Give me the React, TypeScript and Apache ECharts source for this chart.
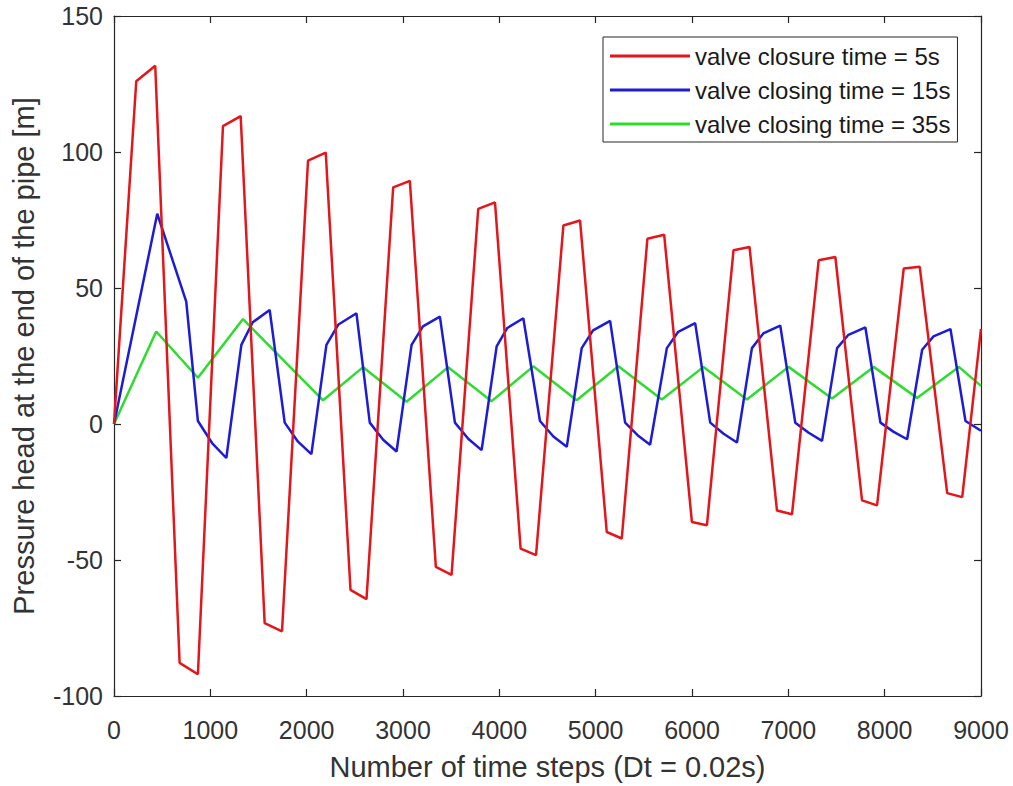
import React, { useEffect, useRef } from "react";
import * as echarts from "echarts";

// Number of time steps vs pressure head [m]
const redPoints: number[][] = [
  [0, 0], [231, 126], [428, 131.7], [681, -87.8], [871, -92],
  [1131, 109.5], [1315, 113.2], [1564, -73.2], [1744, -76.2],
  [2014, 96.8], [2198, 99.8], [2455, -61], [2621, -64.4],
  [2898, 87], [3071, 89.4], [3341, -52.5], [3504, -55.5],
  [3781, 79.1], [3955, 81.5], [4221, -45.8], [4381, -48.2],
  [4665, 73], [4838, 74.8], [5115, -39.7], [5271, -42.1],
  [5537, 68.1], [5711, 69.6], [5999, -36], [6155, -37.2],
  [6431, 63.9], [6597, 65.1], [6882, -31.8], [7038, -33.2],
  [7315, 60.2], [7488, 61.4], [7765, -28.1], [7921, -29.9],
  [8198, 57.2], [8364, 57.8], [8649, -25.4], [8805, -26.9],
  [9000, 35],
];

const bluePoints: number[][] = [
  [0, 0], [449, 77.3], [750, 45], [871, 1.1], [1018, -7], [1166, -12.5],
  [1322, 29.1], [1440, 37.4], [1616, 41.9], [1772, 0.5], [1910, -6.5], [2049, -11.1],
  [2205, 29.1], [2330, 36.6], [2517, 40.7], [2655, 0.5], [2794, -5.8], [2933, -10.1],
  [3089, 29.1], [3207, 35.9], [3383, 39.5], [3539, 0.5], [3677, -5.4], [3816, -9.6],
  [3972, 28.5], [4083, 35.3], [4249, 38.9], [4422, 1.1], [4561, -4.6], [4700, -8.4],
  [4855, 27.9], [4973, 34.4], [5150, 37.9], [5306, 0.5], [5435, -4.1], [5565, -7.6],
  [5739, 27.9], [5857, 33.9], [6033, 37.1], [6189, 0.5], [6328, -3.6], [6467, -6.8],
  [6622, 27.9], [6740, 33.3], [6916, 36.2], [7072, 0.5], [7211, -3.2], [7350, -6.2],
  [7506, 27.9], [7624, 32.8], [7800, 35.5], [7956, 0.5], [8094, -2.9], [8233, -5.6],
  [8389, 27.3], [8507, 32.2], [8683, 34.9], [8839, 1.1], [9000, -2.5],
];

const greenPoints: number[][] = [
  [0, 0], [438, 34], [871, 17], [1339, 38.6], [2170, 8.7], [2586, 20.9],
  [3037, 8.2], [3469, 20.9], [3920, 8.4], [4353, 21.2], [4803, 8.7],
  [5236, 21.2], [5687, 9], [6120, 21], [6570, 9], [7003, 21],
  [7453, 9.4], [7886, 21], [8336, 9.6], [8770, 21], [9000, 14],
];

const seriesNames = [
  "valve closure time = 5s",
  "valve closing time = 15s",
  "valve closing time = 35s",
];
const seriesColors = ["#e3161b", "#1c1cd6", "#2edc2e"];

const xTicks = { min: 0, max: 9000, interval: 1000 };
const yTicks = { min: -100, max: 150, interval: 50 };

const FONT = "'Liberation Sans', Arial, Helvetica, sans-serif";
const AXIS_COLOR = "#262626";
const LABEL_COLOR = "#333333";

export default function App() {
  const ref = useRef<HTMLDivElement>(null);

  useEffect(() => {
    if (!ref.current) return;
    const chart = echarts.init(ref.current, null, { renderer: "svg" });

    const axisLine = { show: true, onZero: false, lineStyle: { color: AXIS_COLOR, width: 1.2 } };
    const axisTick = { show: true, inside: true, length: 7, lineStyle: { color: AXIS_COLOR, width: 1.2 } };
    const plain = (v: number) => String(v);

    const data = [redPoints, bluePoints, greenPoints];

    chart.setOption({
      animation: false,
      backgroundColor: "#ffffff",
      textStyle: { fontFamily: FONT },
      grid: { left: 114, right: 32, top: 16, bottom: 86, containLabel: false },
      legend: {
        data: seriesNames.map((name) => ({ name, icon: "rect" })),
        orient: "vertical",
        left: 603,
        top: 37,
        padding: [7, 7, 6, 7],
        borderColor: AXIS_COLOR,
        borderWidth: 1,
        backgroundColor: "#ffffff",
        itemWidth: 80,
        itemHeight: 3,
        itemGap: 10,
        textStyle: { fontSize: 24, color: "#1a1a1a", fontFamily: FONT },
      },
      xAxis: [
        {
          type: "value",
          position: "bottom",
          ...xTicks,
          axisLine,
          axisTick,
          splitLine: { show: false },
          axisLabel: { fontSize: 25, color: LABEL_COLOR, margin: 21, fontFamily: FONT, formatter: plain },
          name: "Number of time steps (Dt = 0.02s)",
          nameLocation: "middle",
          nameGap: 56,
          nameTextStyle: { fontSize: 29, color: LABEL_COLOR, fontFamily: FONT },
        },
        {
          type: "value",
          position: "top",
          ...xTicks,
          axisLine,
          axisTick,
          splitLine: { show: false },
          axisLabel: { show: false },
        },
      ],
      yAxis: [
        {
          type: "value",
          position: "left",
          ...yTicks,
          axisLine,
          axisTick,
          splitLine: { show: false },
          axisLabel: { fontSize: 25, color: LABEL_COLOR, margin: 11, fontFamily: FONT, formatter: plain },
          name: "Pressure head at the end of the pipe [m]",
          nameLocation: "middle",
          nameGap: 76,
          nameTextStyle: { fontSize: 29, color: LABEL_COLOR, fontFamily: FONT },
        },
        {
          type: "value",
          position: "right",
          ...yTicks,
          axisLine,
          axisTick,
          splitLine: { show: false },
          axisLabel: { show: false },
        },
      ],
      series: seriesNames.map((name, i) => ({
        name,
        type: "line",
        xAxisIndex: 0,
        yAxisIndex: 0,
        data: data[i],
        symbol: "none",
        showSymbol: false,
        lineStyle: { color: seriesColors[i], width: 2.5 },
        itemStyle: { color: seriesColors[i] },
        z: 3 - i,
      })),
    });

    return () => chart.dispose();
  }, []);

  return (
    <div
      ref={ref}
      style={{ position: "absolute", left: 0, top: 0, width: 1013, height: 786, background: "#fff" }}
    />
  );
}
